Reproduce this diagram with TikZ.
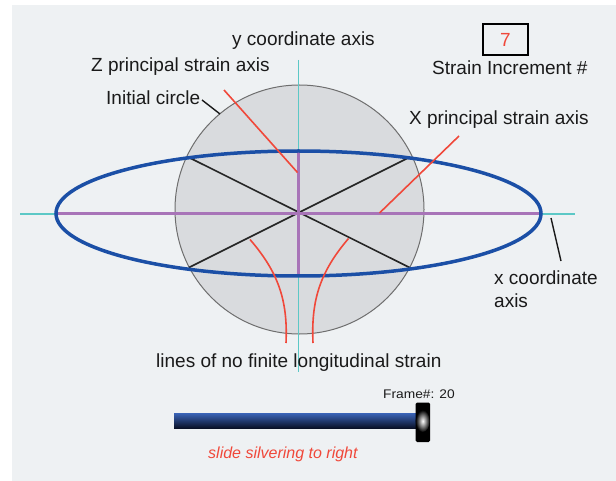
\documentclass[tikz,border=0pt]{standalone}
\usepackage{fontspec}
\setmainfont{Liberation Sans}
\definecolor{panel}{HTML}{EEF1F3}
\definecolor{circfill}{HTML}{D9DBDE}
\definecolor{circline}{HTML}{6E6E6E}
\definecolor{ellblue}{HTML}{1B4FA6}
\definecolor{purp}{HTML}{A874B8}
\definecolor{cyanax}{HTML}{5CC8C6}
\definecolor{redc}{HTML}{F0483A}
\definecolor{txt}{HTML}{1A1A1A}
\definecolor{sliderTop}{HTML}{3A64B8}
\definecolor{sliderMid}{HTML}{1E469A}
\definecolor{sliderBot}{HTML}{0A1228}
\begin{document}
\begin{tikzpicture}[x=1pt,y=-1pt,
  lbl/.style={font=\fontsize{19}{21}\selectfont, text=txt, inner sep=0pt, anchor=base west},
  ptr/.style={draw=redc, line width=1.6pt},
  blkptr/.style={draw=txt, line width=1.4pt},
  nofin/.style={draw=black!85, line width=1.6pt},
  pax/.style={draw=purp, line width=3pt},
  cax/.style={draw=cyanax, line width=1.5pt}]
\useasboundingbox (0,0) rectangle (616,481);
\fill[white] (0,0) rectangle (616,481);
\fill[panel] (12,5) rectangle (616,481);

% initial circle
\coordinate (C) at (299.5,209.5);
\filldraw[fill=circfill, draw=circline, line width=1pt] (C) circle [radius=124.5pt];

% coordinate axes
\coordinate (xl) at (20,214);
\coordinate (xr) at (575,214);
\coordinate (yt) at (298.5,60);
\coordinate (yb) at (298.5,372);
\draw[cax] (xl) -- (xr);
\draw[cax] (yt) -- (yb);

% lines of no finite longitudinal strain
\coordinate (O) at (298.5,213);
\coordinate (ul) at (188,157);
\coordinate (lr) at (409.5,267.5);
\coordinate (ur) at (409,157.5);
\coordinate (ll) at (189,267.5);
\draw[nofin] (ul) -- (lr);
\draw[nofin] (ur) -- (ll);

% principal strain axes
\coordinate (pl) at (56,213.5);
\coordinate (pr) at (541,213.5);
\coordinate (pt) at (298,150.5);
\coordinate (pb) at (298,276.5);
\draw[pax] (pl) -- (pr);
\draw[pax] (pt) -- (pb);

% strain ellipse
\draw[ellblue, line width=3.5pt] (298.5,213.5) ellipse [x radius=242.5pt, y radius=62.5pt];

% labels
\node[lbl] (ylab) at (232,46) {y coordinate axis};
\node[lbl] (zlab) at (91,72) {Z principal strain axis};
\node[lbl] (clab) at (106,105) {Initial circle};
\node[lbl] (slab) at (432,75) {Strain Increment \#};
\node[lbl] (xplab) at (409,125) {X principal strain axis};
\node[lbl] (xclab1) at (494,284) {x coordinate};
\node[lbl] (xclab2) at (494,307.5) {axis};
\node[lbl] (nlab) at (156,367) {lines of no finite longitudinal strain};

% increment box
\draw[black, line width=1.2pt] (483,24) rectangle (528,55);
\node[lbl, anchor=base, text=redc] (inc) at (505.5,46.5) {7};

% pointers
\coordinate (zs) at (224,90);
\coordinate (ze) at (297.5,172.5);
\draw[ptr] (zs) -- (ze);
\coordinate (xs) at (459,136);
\coordinate (xe) at (379.5,213);
\draw[ptr] (xs) -- (xe);
\coordinate (la) at (250,239.5);
\coordinate (lb) at (286,343);
\draw[ptr] (la) .. controls (278,272) and (288,300) .. (lb);
\coordinate (ra) at (348.5,238.5);
\coordinate (rb) at (313,343);
\draw[ptr] (ra) .. controls (320,272) and (311,300) .. (rb);
\coordinate (cs) at (202,100);
\coordinate (ce) at (220,114);
\draw[blkptr] (cs) -- (ce);
\coordinate (xcs) at (551,218);
\coordinate (xce) at (561,261);
\draw[blkptr] (xcs) -- (xce);

% slider
\shade[top color=sliderTop, middle color=sliderMid, bottom color=sliderBot] (174,413) rectangle (418,428);
\fill[black, rounded corners=1.5pt] (415.5,402.5) rectangle (430,442);
\shade[inner color=white, outer color=black] (422.7,421) ellipse [x radius=7pt, y radius=11pt];
\node[inner sep=0pt, anchor=base west, text=txt, font=\fontsize{12.5}{14}\selectfont] (frame) at (383,398) {\scalebox{1.1}[1]{Frame\#: 20}};
\node[inner sep=0pt, anchor=base west, text=redc, font=\fontsize{16}{18}\selectfont\itshape] (slide) at (208,458) {slide silvering to right};
\end{tikzpicture}
\end{document}
